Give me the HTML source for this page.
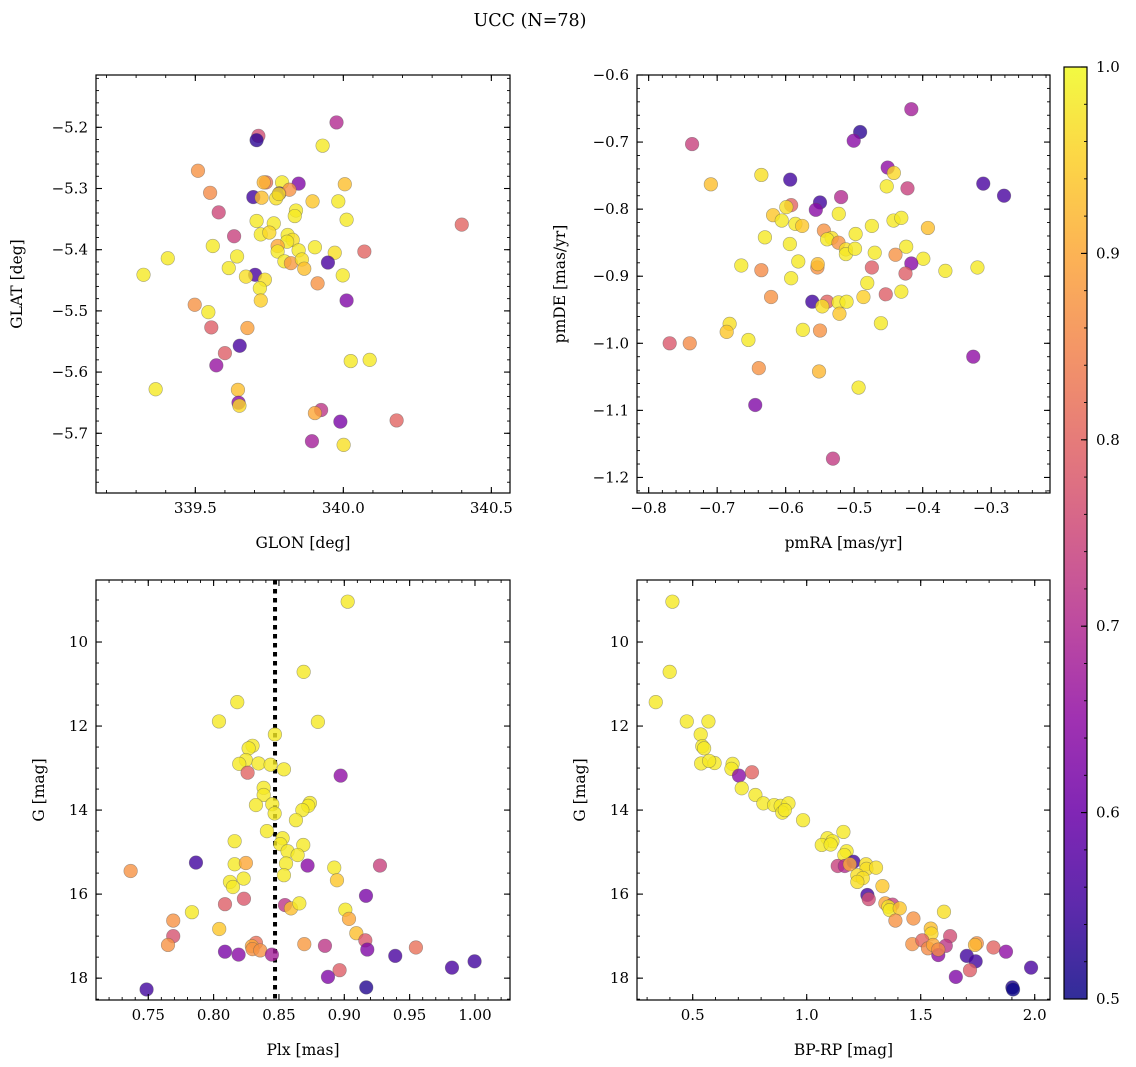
<!DOCTYPE html>
<html><head><meta charset="utf-8">
<style>
html,body{margin:0;padding:0;background:#fff;}
svg{display:block;}
text{font-family:"DejaVu Serif","Liberation Serif",serif;fill:#000;}
</style></head>
<body>
<svg id="fig" width="1136" height="1067" viewBox="0 0 1136 1067" xmlns="http://www.w3.org/2000/svg">
<rect x="0" y="0" width="1136" height="1067" fill="#fff"/>
<text x="530" y="26" font-size="17.5" text-anchor="middle">UCC (N=78)</text>
</svg>
<script>
// ---------- Panel 1: GLON / GLAT ----------
const p1Glon=[339.977,339.713,339.707,339.930,339.509,339.550,339.739,339.731,339.793,339.849,340.005,339.696,339.724,339.784,339.818,339.773,339.782,339.896,339.983,339.579,339.840,339.836,340.011,340.400,339.707,339.765,339.631,339.721,339.750,339.812,339.829,339.810,339.559,339.778,339.904,340.071,339.778,339.849,339.971,339.948,339.407,339.641,339.801,339.823,339.860,339.868,339.325,339.613,339.702,339.671,339.735,339.998,339.913,339.718,339.721,340.011,339.498,339.544,339.554,339.676,339.650,339.600,339.571,340.025,340.089,339.366,339.644,339.646,339.649,339.925,339.904,339.990,340.180,339.894,340.001];
const p1Glat=[-5.192,-5.214,-5.221,-5.230,-5.271,-5.307,-5.290,-5.290,-5.290,-5.292,-5.293,-5.314,-5.315,-5.308,-5.302,-5.316,-5.309,-5.321,-5.321,-5.339,-5.336,-5.345,-5.351,-5.359,-5.353,-5.357,-5.378,-5.375,-5.372,-5.376,-5.384,-5.387,-5.394,-5.394,-5.396,-5.403,-5.403,-5.401,-5.405,-5.421,-5.414,-5.411,-5.419,-5.422,-5.416,-5.431,-5.441,-5.430,-5.441,-5.444,-5.449,-5.442,-5.455,-5.463,-5.483,-5.483,-5.490,-5.502,-5.527,-5.528,-5.557,-5.569,-5.589,-5.582,-5.580,-5.628,-5.629,-5.650,-5.655,-5.662,-5.667,-5.681,-5.679,-5.713,-5.719];
const p1Prob=[0.70,0.76,0.53,0.98,0.87,0.86,0.82,0.92,0.98,0.63,0.93,0.55,0.93,0.55,0.87,0.97,0.97,0.94,0.98,0.75,0.98,0.98,0.98,0.80,0.98,0.98,0.74,0.98,0.96,0.98,0.97,0.98,0.98,0.90,0.98,0.80,0.98,0.98,0.97,0.56,0.98,0.98,0.98,0.88,0.97,0.93,0.98,0.98,0.56,0.97,0.97,0.98,0.87,0.98,0.95,0.63,0.87,0.98,0.79,0.89,0.56,0.79,0.66,0.98,0.98,0.98,0.93,0.64,0.96,0.72,0.90,0.62,0.80,0.68,0.97];
const p1XTicks=[339.5,340.0,340.5];
const p1YTicks=[-5.2,-5.3,-5.4,-5.5,-5.6,-5.7];

// ---------- Panel 2: pmRA / pmDE ----------
const p2PmRA=[-0.4166,-0.4913,-0.5007,-0.7366,-0.4511,-0.4421,-0.6355,-0.5934,-0.3116,-0.7092,-0.4525,-0.4222,-0.2813,-0.5191,-0.5499,-0.5560,-0.5920,-0.5991,-0.6184,-0.6057,-0.5225,-0.5858,-0.5759,-0.4742,-0.4426,-0.4312,-0.3924,-0.5442,-0.6303,-0.5329,-0.5395,-0.5229,-0.4979,-0.5939,-0.5121,-0.5121,-0.4988,-0.4700,-0.4241,-0.4397,-0.3991,-0.4166,-0.6648,-0.5816,-0.5537,-0.5532,-0.4742,-0.6355,-0.3669,-0.3201,-0.4251,-0.5920,-0.4809,-0.6213,-0.4539,-0.4312,-0.4865,-0.5612,-0.5395,-0.5466,-0.5229,-0.5111,-0.5215,-0.6818,-0.6861,-0.4610,-0.5749,-0.5499,-0.6544,-0.7693,-0.7400,-0.3262,-0.6392,-0.5513,-0.4936,-0.6444,-0.5310];
const p2PmDE=[-0.651,-0.685,-0.698,-0.703,-0.738,-0.746,-0.749,-0.756,-0.762,-0.763,-0.766,-0.769,-0.780,-0.782,-0.790,-0.801,-0.794,-0.797,-0.809,-0.817,-0.807,-0.822,-0.825,-0.825,-0.817,-0.813,-0.828,-0.832,-0.842,-0.843,-0.845,-0.850,-0.837,-0.852,-0.860,-0.867,-0.859,-0.865,-0.856,-0.868,-0.874,-0.881,-0.884,-0.878,-0.887,-0.882,-0.887,-0.891,-0.892,-0.887,-0.896,-0.903,-0.910,-0.931,-0.927,-0.923,-0.931,-0.938,-0.938,-0.945,-0.939,-0.938,-0.956,-0.971,-0.983,-0.970,-0.980,-0.981,-0.995,-1.000,-1.000,-1.020,-1.037,-1.042,-1.066,-1.092,-1.172];
const p2Prob=[0.68,0.53,0.64,0.74,0.65,0.96,0.97,0.55,0.56,0.93,0.98,0.74,0.56,0.70,0.55,0.64,0.80,0.97,0.94,0.98,0.98,0.98,0.94,0.98,0.98,0.98,0.93,0.87,0.98,0.97,0.98,0.87,0.98,0.98,0.97,0.98,0.98,0.98,0.98,0.87,0.98,0.64,0.98,0.98,0.87,0.93,0.79,0.86,0.98,0.98,0.79,0.98,0.98,0.87,0.79,0.98,0.95,0.55,0.80,0.97,0.98,0.98,0.94,0.97,0.94,0.98,0.98,0.87,0.98,0.78,0.86,0.65,0.87,0.92,0.98,0.63,0.73];
const p2XTicks=[-0.8,-0.7,-0.6,-0.5,-0.4,-0.3];
const p2YTicks=[-0.6,-0.7,-0.8,-0.9,-1.0,-1.1,-1.2];

// ---------- Panel 3: Plx / G ----------
const p3Plx=[0.9026,0.8689,0.8181,0.8041,0.8798,0.8469,0.8298,0.8268,0.8247,0.8196,0.8344,0.8436,0.8538,0.8260,0.8972,0.8383,0.8383,0.8324,0.8449,0.8467,0.8737,0.8724,0.8679,0.8630,0.8408,0.8528,0.8510,0.8686,0.8566,0.8643,0.8161,0.7865,0.7365,0.8161,0.8247,0.8554,0.8719,0.8923,0.9273,0.8538,0.8944,0.8230,0.8125,0.8148,0.9166,0.8087,0.8232,0.8546,0.8592,0.8656,0.7834,0.9008,0.9036,0.7691,0.8043,0.9092,0.7691,0.7651,0.9161,0.8324,0.8293,0.8298,0.8357,0.8694,0.8852,0.9176,0.9548,0.8087,0.8191,0.8446,0.9390,0.9824,0.9997,0.8964,0.8875,0.9168,0.7487];
const p3G=[9.04,10.71,11.43,11.89,11.90,12.20,12.47,12.53,12.81,12.90,12.89,12.92,13.03,13.11,13.18,13.47,13.64,13.88,13.86,14.08,13.83,13.90,14.00,14.24,14.50,14.67,14.81,14.83,14.98,15.07,14.74,15.25,15.45,15.29,15.26,15.27,15.32,15.37,15.32,15.55,15.67,15.63,15.71,15.83,16.04,16.24,16.11,16.26,16.34,16.22,16.43,16.37,16.59,16.63,16.83,16.93,17.00,17.21,17.10,17.16,17.24,17.31,17.34,17.19,17.23,17.32,17.27,17.37,17.44,17.44,17.47,17.75,17.60,17.81,17.97,18.22,18.27];
const p3Prob=[0.98,0.98,0.98,0.98,0.98,0.98,0.98,0.98,0.98,0.98,0.98,0.98,0.98,0.80,0.65,0.98,0.98,0.98,0.98,0.98,0.98,0.98,0.98,0.98,0.98,0.98,0.98,0.98,0.98,0.98,0.98,0.55,0.87,0.98,0.90,0.98,0.64,0.98,0.74,0.98,0.94,0.98,0.98,0.98,0.62,0.79,0.78,0.72,0.93,0.98,0.98,0.98,0.90,0.87,0.94,0.93,0.77,0.87,0.78,0.82,0.90,0.87,0.87,0.88,0.72,0.63,0.82,0.62,0.64,0.68,0.56,0.56,0.55,0.79,0.63,0.52,0.55];
const p3XTicks=[0.75,0.80,0.85,0.90,0.95,1.00];
const p3YTicks=[10,12,14,16,18];
const p3PlxMedian=[0.847];

// ---------- Panel 4: BP-RP / G ----------
const p4BpRp=[0.411,0.399,0.338,0.474,0.569,0.535,0.542,0.550,0.537,0.596,0.572,0.675,0.670,0.703,0.760,0.715,0.775,0.810,0.857,0.886,0.920,0.893,0.904,0.984,1.161,1.091,1.113,1.066,1.105,1.175,1.165,1.136,1.167,1.205,1.189,1.260,1.262,1.304,1.222,1.246,1.222,1.332,1.266,1.272,1.345,1.376,1.358,1.364,1.408,1.602,1.389,1.468,1.544,1.547,1.629,1.463,1.507,1.532,1.554,1.610,1.577,1.577,1.746,1.738,1.819,1.874,1.702,1.741,1.716,1.654,1.984,1.902,1.905];
const p4G=[9.04,10.71,11.43,11.89,11.89,12.20,12.48,12.53,12.89,12.88,12.83,12.90,13.02,13.18,13.10,13.48,13.64,13.84,13.88,13.90,13.84,14.06,14.00,14.24,14.52,14.67,14.74,14.83,14.82,14.98,15.07,15.33,15.33,15.23,15.29,15.29,15.40,15.37,15.55,15.62,15.71,15.81,16.02,16.12,16.22,16.25,16.30,16.38,16.34,16.42,16.63,16.58,16.82,16.94,17.00,17.19,17.10,17.29,17.21,17.23,17.45,17.32,17.17,17.21,17.27,17.37,17.47,17.60,17.81,17.97,17.75,18.22,18.27];
const p4Prob=[0.98,0.98,0.98,0.98,0.98,0.98,0.98,0.98,0.98,0.98,0.98,0.98,0.98,0.64,0.80,0.98,0.98,0.98,0.98,0.98,0.98,0.98,0.98,0.98,0.98,0.98,0.98,0.98,0.98,0.98,0.98,0.74,0.70,0.55,0.90,0.97,0.97,0.97,0.97,0.97,0.97,0.94,0.55,0.76,0.90,0.74,0.98,0.98,0.94,0.97,0.87,0.87,0.93,0.96,0.76,0.87,0.80,0.86,0.90,0.72,0.65,0.86,0.87,0.92,0.80,0.65,0.55,0.55,0.79,0.63,0.56,0.52,0.50];
const p4XTicks=[0.5,1.0,1.5,2.0];
const p4YTicks=[10,12,14,16,18];

// ---------- Colorbar ----------
const cbTicks=[0.5,0.6,0.7,0.8,0.9,1.0];

const NS='http://www.w3.org/2000/svg';
const svg=document.getElementById('fig');
function mk(tag,attrs,parent){const e=document.createElementNS(NS,tag);for(const k in attrs)e.setAttribute(k,attrs[k]);(parent||svg).appendChild(e);return e;}
const plasmaStops=[[0,13,8,135],[0.1,65,4,157],[0.2,106,0,168],[0.3,143,13,164],[0.4,177,42,144],[0.5,204,71,120],[0.6,225,100,98],[0.7,242,132,75],[0.8,252,166,54],[0.9,252,206,37],[1,240,249,33]];
function plasma(t){t=Math.max(0,Math.min(1,t));for(let i=1;i<plasmaStops.length;i++){const a=plasmaStops[i-1],b=plasmaStops[i];if(t<=b[0]){const f=(t-a[0])/(b[0]-a[0]);return 'rgb('+[1,2,3].map(j=>Math.round(a[j]+f*(b[j]-a[j]))).join(',')+')';}}return 'rgb(240,249,33)';}
function pcol(p){return plasma((p-0.5)/0.5);}
function lin(d0,d1,r0,r1){return v=>r0+(v-d0)*(r1-r0)/(d1-d0);}
function fmt(v,dec){return (v<0?'\u2212':'')+Math.abs(v).toFixed(dec);}

function panel(o){
  const g=mk('g',{});
  
  
  const sx=lin(o.xd[0],o.xd[1],o.L,o.R), sy=lin(o.yd[0],o.yd[1],o.B,o.T);
  const clipId='clip-'+o.name;
  const cp=mk('clipPath',{id:clipId},g);
  mk('rect',{x:o.L,y:o.T,width:o.R-o.L,height:o.B-o.T},cp);
  const pg=mk('g',{'clip-path':'url(#'+clipId+')'},g);
  
  
  if(o.vline){o.vline.forEach(v=>{const l=mk('line',{x1:sx(v),x2:sx(v),y1:o.T,y2:o.B,stroke:'#000','stroke-width':4,'stroke-dasharray':'4.5,4.5'},pg);
    
    });}
  for(let i=0;i<o.xs.length;i++){
    const c=mk('circle',{cx:sx(o.xs[i]),cy:sy(o.ys[i]),r:6.8,fill:pcol(o.ps[i]),'fill-opacity':0.8,stroke:'#555','stroke-opacity':0.5,'stroke-width':0.6},pg);
    
    
  }
  const fr=mk('rect',{x:o.L,y:o.T,width:o.R-o.L,height:o.B-o.T,fill:'none',stroke:'#000','stroke-width':1.2},g);
  
  
  const eps=1e-9;
  for(let v=Math.ceil(o.xd[0]/o.xm-eps)*o.xm; v<=o.xd[1]+eps; v+=o.xm){const x=sx(v);
    mk('line',{x1:x,x2:x,y1:o.B,y2:o.B-3,stroke:'#000','stroke-width':0.9},g);mk('line',{x1:x,x2:x,y1:o.T,y2:o.T+3,stroke:'#000','stroke-width':0.9},g);}
  for(let v=Math.ceil(Math.min(o.yd[0],o.yd[1])/o.ym-eps)*o.ym; v<=Math.max(o.yd[0],o.yd[1])+eps; v+=o.ym){const y=sy(v);
    mk('line',{x1:o.L,x2:o.L+3,y1:y,y2:y,stroke:'#000','stroke-width':0.9},g);mk('line',{x1:o.R,x2:o.R-3,y1:y,y2:y,stroke:'#000','stroke-width':0.9},g);}
  o.xt.forEach(v=>{const x=sx(v);
    mk('line',{x1:x,x2:x,y1:o.B,y2:o.B-6,stroke:'#000','stroke-width':1.1},g);mk('line',{x1:x,x2:x,y1:o.T,y2:o.T+6,stroke:'#000','stroke-width':1.1},g);
    const t=mk('text',{x:x,y:o.B+20,'font-size':15,'text-anchor':'middle'},g);t.textContent=fmt(v,o.xdec);
    
    });
  o.yt.forEach(v=>{const y=sy(v);
    mk('line',{x1:o.L,x2:o.L+6,y1:y,y2:y,stroke:'#000','stroke-width':1.1},g);mk('line',{x1:o.R,x2:o.R-6,y1:y,y2:y,stroke:'#000','stroke-width':1.1},g);
    const t=mk('text',{x:o.L-8,y:y+5,'font-size':15,'text-anchor':'end'},g);t.textContent=fmt(v,o.ydec);
    
    });
  const xl=mk('text',{x:(o.L+o.R)/2,y:o.B+55,'font-size':15.5,'text-anchor':'middle'},g);xl.textContent=o.xlab;
  
  
  const yl=mk('text',{x:0,y:0,'font-size':15.5,'text-anchor':'middle',transform:'translate('+o.ylx+','+(o.T+o.B)/2+') rotate(-90)'},g);yl.textContent=o.ylab;
  
  
}

panel({name:'glon-glat-panel',L:96,R:510,T:75,B:493,xd:[339.1645,340.563],yd:[-5.7976,-5.1145],xs:p1Glon,ys:p1Glat,ps:p1Prob,xt:p1XTicks,yt:p1YTicks,xm:0.1,ym:0.02,xdec:1,ydec:1,xlab:'GLON [deg]',ylab:'GLAT [deg]',ylx:22});
panel({name:'pm-panel',L:637,R:1050,T:75,B:493,xd:[-0.817,-0.2142],yd:[-1.2232,-0.6],xs:p2PmRA,ys:p2PmDE,ps:p2Prob,xt:p2XTicks,yt:p2YTicks,xm:0.02,ym:0.02,xdec:1,ydec:1,xlab:'pmRA [mas/yr]',ylab:'pmDE [mas/yr]',ylx:565});
panel({name:'plx-g-panel',L:96,R:510,T:580,B:1000,xd:[0.71,1.0268],yd:[18.52,8.524],xs:p3Plx,ys:p3G,ps:p3Prob,xt:p3XTicks,yt:p3YTicks,xm:0.01,ym:0.5,xdec:2,ydec:0,xlab:'Plx [mas]',ylab:'G [mag]',ylx:44,vline:p3PlxMedian});
panel({name:'cmd-panel',L:637,R:1050,T:580,B:1000,xd:[0.2557,2.067],yd:[18.52,8.524],xs:p4BpRp,ys:p4G,ps:p4Prob,xt:p4XTicks,yt:p4YTicks,xm:0.1,ym:0.5,xdec:1,ydec:0,xlab:'BP-RP [mag]',ylab:'G [mag]',ylx:585});

(function(){
  const L=1064,R=1087,T=67,B=999;
  const cg=mk('g',{});
  
  
  const defs=mk('defs',{},cg);
  const gr=mk('linearGradient',{id:'cbgrad',x1:0,y1:1,x2:0,y2:0},defs);
  for(let i=0;i<=20;i++){mk('stop',{offset:i/20,'stop-color':plasma(i/20),'stop-opacity':0.85},gr);}
  mk('rect',{x:L,y:T,width:R-L,height:B-T,fill:'url(#cbgrad)',stroke:'#000','stroke-width':1.2},cg);
  const sy=lin(0.5,1.0,B,T);
  for(let v=0.5;v<=1.0001;v+=0.02){const y=sy(v);mk('line',{x1:R,x2:R-3,y1:y,y2:y,stroke:'#000','stroke-width':0.9},cg);}
  cbTicks.forEach(v=>{const y=sy(v);mk('line',{x1:R,x2:R-6,y1:y,y2:y,stroke:'#000','stroke-width':1.1},cg);
    const t=mk('text',{x:R+9,y:y+5,'font-size':15},cg);t.textContent=v.toFixed(1);
    
    });
})();
</script>
</body></html>
